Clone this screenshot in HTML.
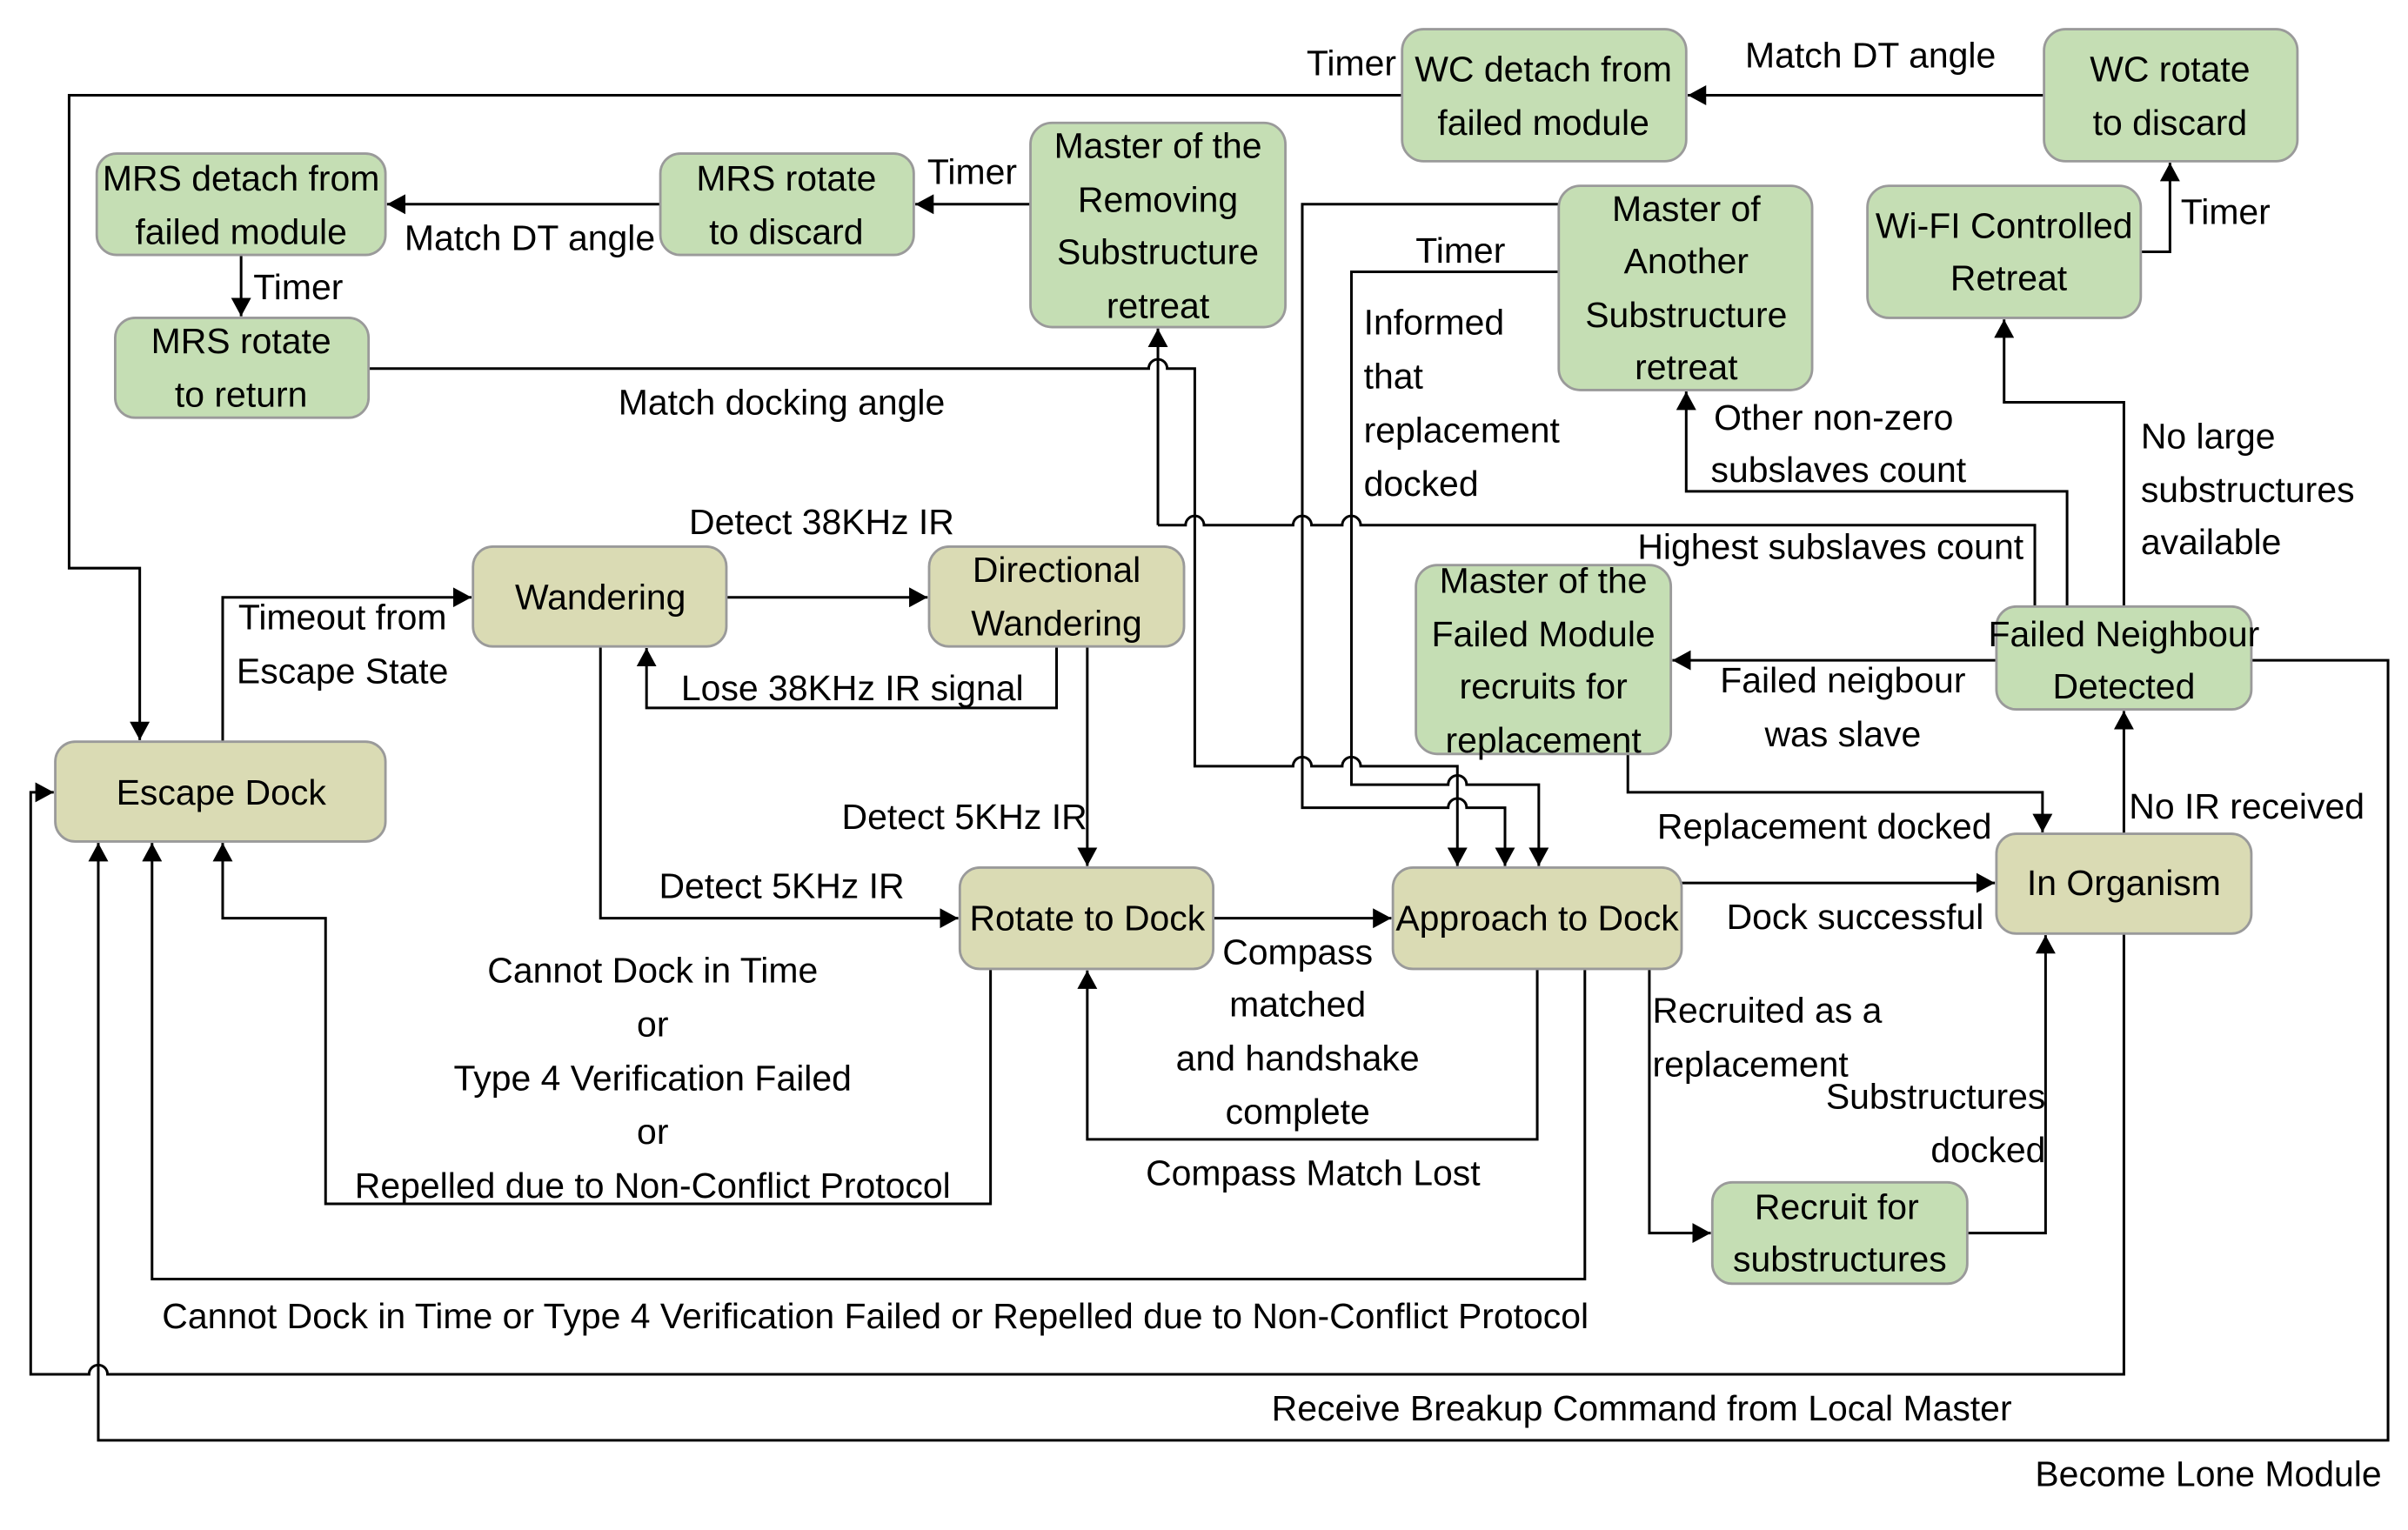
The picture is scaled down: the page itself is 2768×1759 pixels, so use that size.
<!DOCTYPE html>
<html><head><meta charset="utf-8"><style>
html,body{margin:0;padding:0;background:#fff}
svg{display:block}
text{font-family:"Liberation Sans",sans-serif;font-size:23.2px;fill:#000;dominant-baseline:central}
.g{fill:#c5deb4;stroke:#9a9a9a;stroke-width:1.6}
.k{fill:#dadbb4;stroke:#9a9a9a;stroke-width:1.6}
.l{fill:none;stroke:#000;stroke-width:1.7}
</style></head><body>
<svg width="2768" height="1759" viewBox="0 0 1568 996.4" xmlns="http://www.w3.org/2000/svg">
<defs><marker id="a" markerUnits="userSpaceOnUse" markerWidth="13" markerHeight="13" refX="12" refY="6.5" orient="auto"><path d="M0,0 L12,6.5 L0,13 z" fill="#000"/></marker></defs>

<g class="l">
<path d="M1331,62 H1099" marker-end="url(#a)"/>
<path d="M913,62 H45 V370 H91 V482" marker-end="url(#a)"/>
<path d="M671,133 H596" marker-end="url(#a)"/>
<path d="M430,133 H252" marker-end="url(#a)"/>
<path d="M157,166 V206" marker-end="url(#a)"/>
<path d="M240,240 H748 a6,6 0 0 1 12,0 H778 V499 H842 a6,6 0 0 1 12,0 H874 a6,6 0 0 1 12,0 H949 V564" marker-end="url(#a)"/>
<path d="M754,342 V214" marker-end="url(#a)"/>
<path d="M754,342 H772 a6,6 0 0 1 12,0 H842 a6,6 0 0 1 12,0 H874 a6,6 0 0 1 12,0 H1325 V395"/>
<path d="M1015,133 H848 V526 H943 a6,6 0 0 1 12,0 H980 V564" marker-end="url(#a)"/>
<path d="M1015,177 H880 V511 H943 a6,6 0 0 1 12,0 H1002 V564" marker-end="url(#a)"/>
<path d="M1346,395 V320 H1098 V255" marker-end="url(#a)"/>
<path d="M1383,395 V262 H1305 V208" marker-end="url(#a)"/>
<path d="M1394,164 H1413 V106" marker-end="url(#a)"/>
<path d="M1300,430 H1089" marker-end="url(#a)"/>
<path d="M1060,491 V516 H1330 V542" marker-end="url(#a)"/>
<path d="M1383,543 V463" marker-end="url(#a)"/>
<path d="M1466,430 H1555 V938 H64 V549" marker-end="url(#a)"/>
<path d="M1383,608 V895 H70 a6,6 0 0 0 -12,0 H20 V516 H35" marker-end="url(#a)"/>
<path d="M145,483 V389 H307" marker-end="url(#a)"/>
<path d="M473,389 H604" marker-end="url(#a)"/>
<path d="M688,421 V461 H421 V422" marker-end="url(#a)"/>
<path d="M708,421 V564" marker-end="url(#a)"/>
<path d="M391,421 V598 H624" marker-end="url(#a)"/>
<path d="M790,598 H906" marker-end="url(#a)"/>
<path d="M1001,631 V742 H708 V632" marker-end="url(#a)"/>
<path d="M645,631 V784 H212 V598 H145 V549" marker-end="url(#a)"/>
<path d="M1032,631 V833 H99 V549" marker-end="url(#a)"/>
<path d="M1095,575 H1299" marker-end="url(#a)"/>
<path d="M1074,631 V803 H1114" marker-end="url(#a)"/>
<path d="M1281,803 H1332 V609" marker-end="url(#a)"/>
</g>

<rect class="g" x="913" y="19" width="185" height="86" rx="14"/>
<rect class="g" x="1331" y="19" width="165" height="86" rx="14"/>
<rect class="g" x="63" y="100" width="188" height="66" rx="13"/>
<rect class="g" x="430" y="100" width="165" height="66" rx="13"/>
<rect class="g" x="671" y="80" width="166" height="133" rx="14"/>
<rect class="g" x="75" y="207" width="165" height="65" rx="13"/>
<rect class="g" x="1015" y="121" width="165" height="133" rx="14"/>
<rect class="g" x="1216" y="121" width="178" height="86" rx="14"/>
<rect class="k" x="308" y="356" width="165" height="65" rx="13"/>
<rect class="k" x="605" y="356" width="166" height="65" rx="13"/>
<rect class="g" x="922" y="368" width="166" height="123" rx="14"/>
<rect class="g" x="1300" y="395" width="166" height="67" rx="13"/>
<rect class="k" x="36" y="483" width="215" height="65" rx="13"/>
<rect class="k" x="625" y="565" width="165" height="66" rx="13"/>
<rect class="k" x="907" y="565" width="188" height="66" rx="13"/>
<rect class="k" x="1300" y="543" width="166" height="65" rx="13"/>
<rect class="g" x="1115" y="770" width="166" height="66" rx="13"/>

<g text-anchor="middle">
<text x="1005" y="45">WC detach from</text><text x="1005" y="80">failed module</text>
<text x="1413" y="45">WC rotate</text><text x="1413" y="80">to discard</text>
<text x="157" y="116">MRS detach from</text><text x="157" y="151">failed module</text>
<text x="512" y="116">MRS rotate</text><text x="512" y="151">to discard</text>
<text x="754" y="95">Master of the</text><text x="754" y="130">Removing</text><text x="754" y="164">Substructure</text><text x="754" y="199">retreat</text>
<text x="157" y="222">MRS rotate</text><text x="157" y="257">to return</text>
<text x="1098" y="136">Master of</text><text x="1098" y="170">Another</text><text x="1098" y="205">Substructure</text><text x="1098" y="239">retreat</text>
<text x="1305" y="147">Wi-FI Controlled</text><text x="1308" y="181">Retreat</text>
<text x="391" y="389">Wandering</text>
<text x="688" y="371">Directional</text><text x="688" y="406">Wandering</text>
<text x="1005" y="378">Master of the</text><text x="1005" y="413">Failed Module</text><text x="1005" y="447">recruits for</text><text x="1005" y="482">replacement</text>
<text x="1383" y="413">Failed Neighbour</text><text x="1383" y="447">Detected</text>
<text x="144" y="516">Escape Dock</text>
<text x="708" y="598">Rotate to Dock</text>
<text x="1001" y="598">Approach to Dock</text>
<text x="1383" y="575">In Organism</text>
<text x="1196" y="786">Recruit for</text><text x="1198" y="820">substructures</text>
</g>

<g text-anchor="middle">
<text x="880" y="41">Timer</text>
<text x="1218" y="36">Match DT angle</text>
<text x="633" y="112">Timer</text>
<text x="345" y="155">Match DT angle</text>
<text x="951" y="163">Timer</text>
<text x="509" y="262">Match docking angle</text>
<text x="535" y="340">Detect 38KHz IR</text>
<text x="1192" y="356">Highest subslaves count</text>
<text x="223" y="402">Timeout from</text><text x="223" y="437">Escape State</text>
<text x="555" y="448">Lose 38KHz IR signal</text>
<text x="1200" y="443">Failed neigbour</text><text x="1200" y="478">was slave</text>
<text x="628" y="532">Detect 5KHz IR</text>
<text x="1188" y="538">Replacement docked</text>
<text x="1463" y="525">No IR received</text>
<text x="509" y="577">Detect 5KHz IR</text>
<text x="1208" y="597">Dock successful</text>
<text x="845" y="620">Compass</text><text x="845" y="654">matched</text><text x="845" y="689">and handshake</text><text x="845" y="724">complete</text>
<text x="425" y="632">Cannot Dock in Time</text><text x="425" y="667">or</text><text x="425" y="702">Type 4 Verification Failed</text><text x="425" y="737">or</text><text x="425" y="772">Repelled due to Non-Conflict Protocol</text>
<text x="855" y="764">Compass Match Lost</text>
<text x="570" y="857">Cannot Dock in Time or Type 4 Verification Failed or Repelled due to Non-Conflict Protocol</text>
<text x="1069" y="917">Receive Breakup Command from Local Master</text>
<text x="1438" y="960">Become Lone Module</text>
</g>
<g text-anchor="start">
<text x="165" y="187">Timer</text>
<text x="1420" y="138">Timer</text>
<text x="888" y="210">Informed</text><text x="888" y="245">that</text><text x="888" y="280">replacement</text><text x="888" y="315">docked</text>
<text x="1116" y="272">Other non-zero</text><text x="1114" y="306">subslaves count</text>
<text x="1394" y="284">No large</text><text x="1394" y="319">substructures</text><text x="1394" y="353">available</text>
<text x="1076" y="658">Recruited as a</text><text x="1076" y="693">replacement</text>
</g>
<g text-anchor="end">
<text x="1332" y="714">Substructures</text><text x="1332" y="749">docked</text>
</g>
</svg>
</body></html>
